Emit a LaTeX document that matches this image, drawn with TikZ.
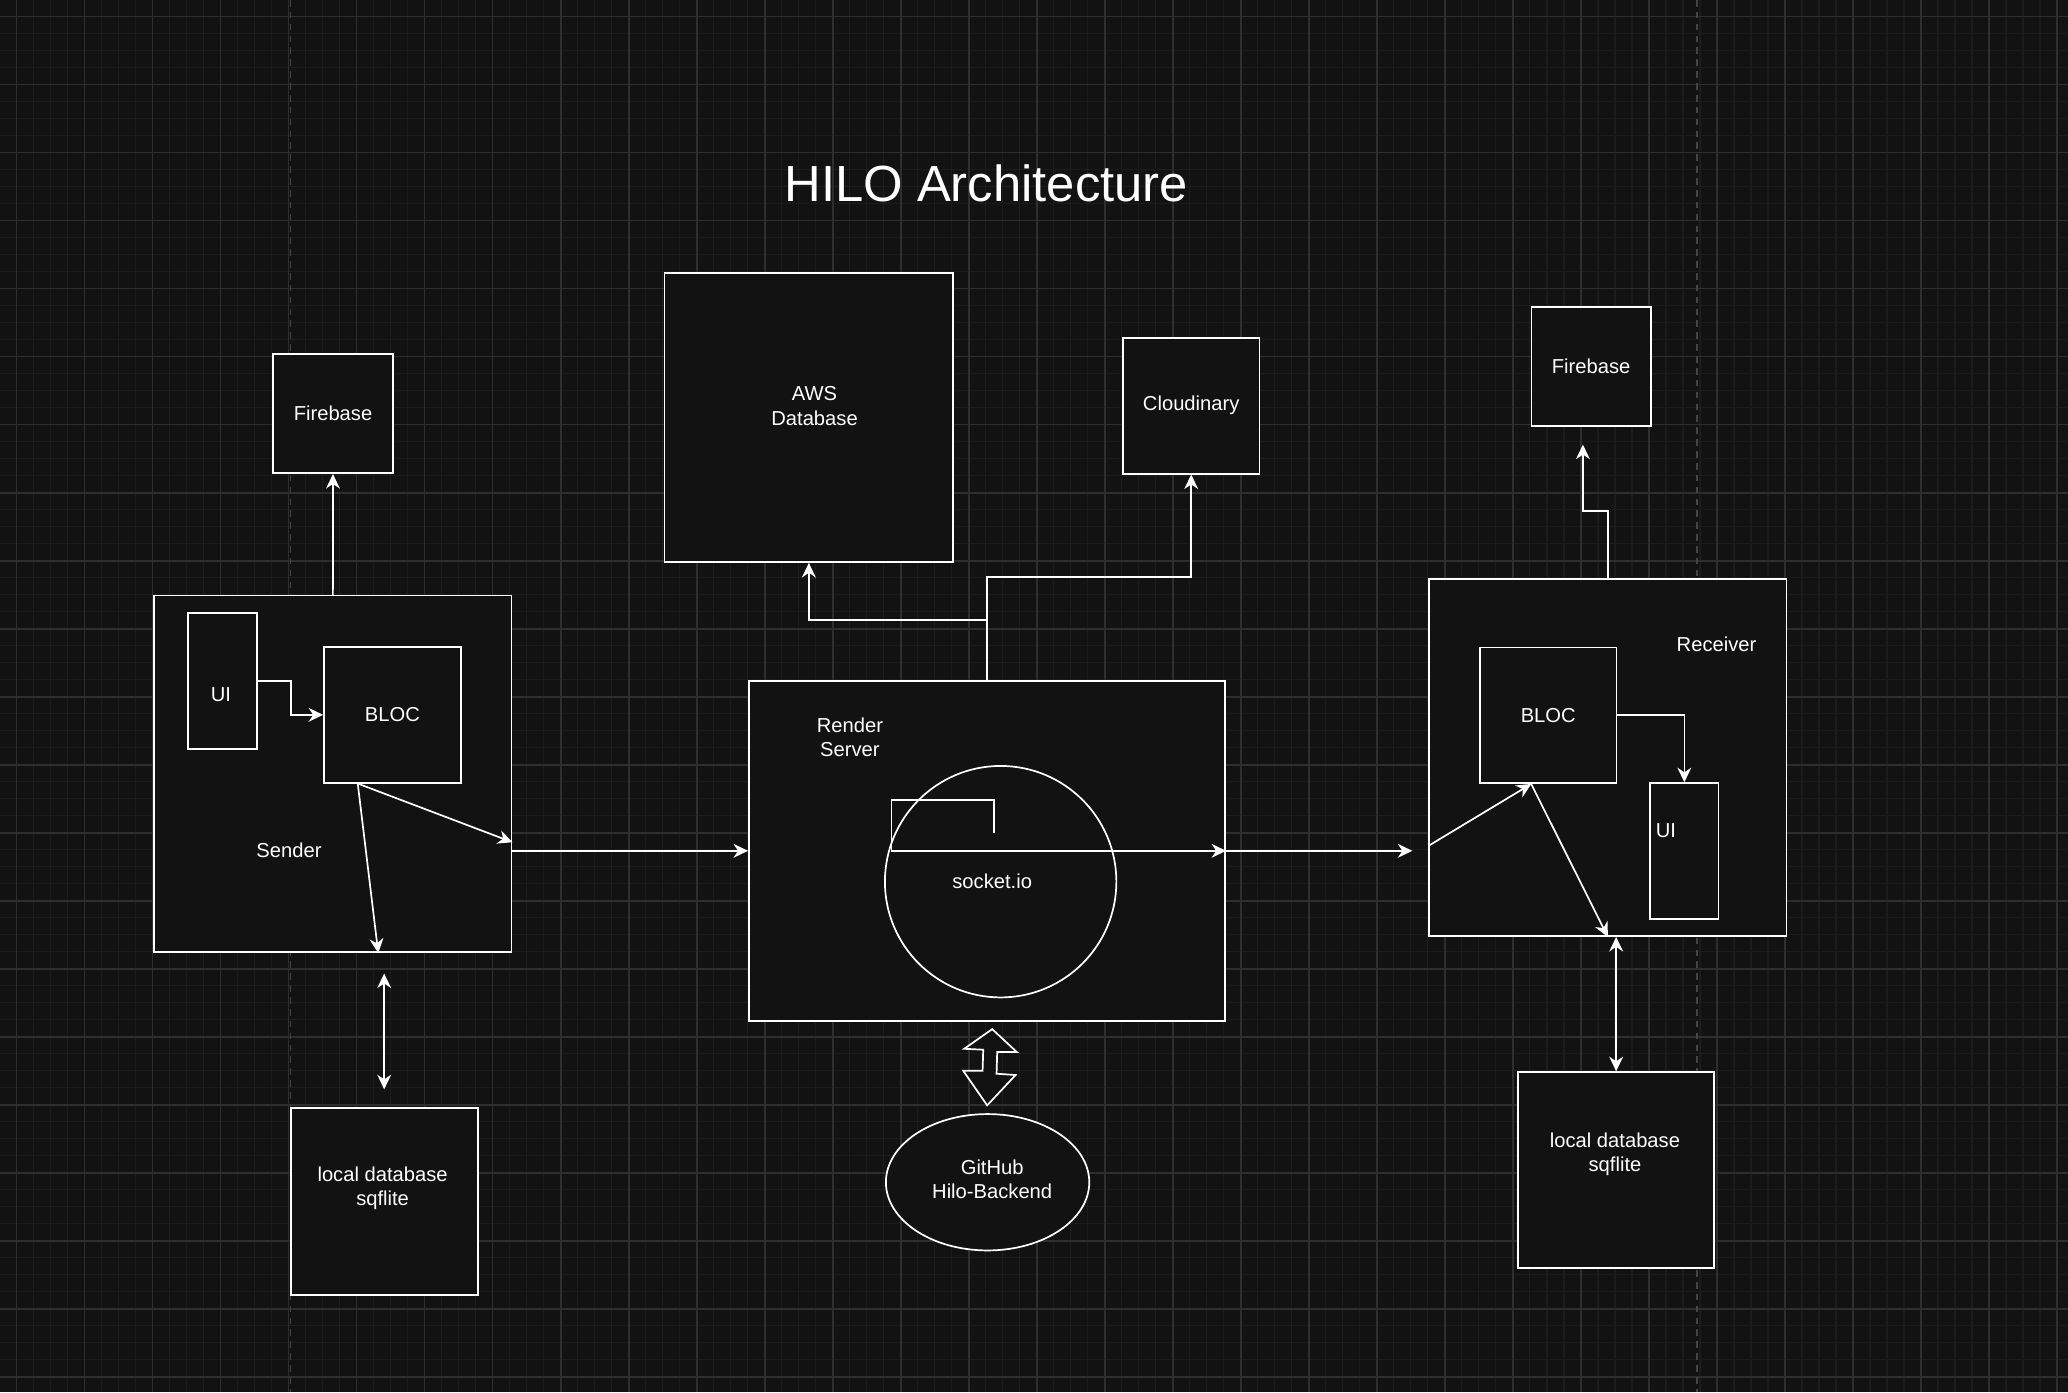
\documentclass[tikz,border=0pt]{standalone}
\usepackage{fontspec}
\setmainfont{Liberation Sans}
\usetikzlibrary{arrows.meta, calc, positioning, shapes.geometric}
\definecolor{canvas}{HTML}{121212}
\definecolor{minorline}{HTML}{1C1C1C}
\definecolor{majorline}{HTML}{2E2E2E}
\definecolor{pageline}{HTML}{454545}
\tikzset{
x=1pt, y=-1pt, % one unit per pixel, y grows downwards
>={Stealth[length=11pt, width=10.5pt, inset=3.5pt]}, % drawio style heads
block/.style={draw=white, fill=canvas, line width=1.3pt, text=white, inner sep=0pt, align=center, font=\fontsize{15.3}{18.4}\selectfont}, % every box
txt/.style={text=white, align=center, font=\fontsize{15.3}{18.4}\selectfont}, % loose labels
wire/.style={draw=white, line width=1.3pt}, % connectors
}
\begin{document}
\begin{tikzpicture}
                \useasboundingbox (0,0) rectangle (1568,1055.5);
                \fill[canvas] (0,0) rectangle (1568,1055.5);
                % background grid
                \foreach \k in {-1,...,121} \draw[minorline, line width=0.9pt] ({12.6+\k*12.892},0) -- ({12.6+\k*12.892},1055.5);
                \foreach \k in {-1,...,81} \draw[minorline, line width=0.9pt] (0,{12.6+\k*12.892}) -- (1568,{12.6+\k*12.892});
                \foreach \k in {0,...,30} \draw[majorline, line width=1.2pt] ({12.6+\k*51.568},0) -- ({12.6+\k*51.568},1055.5);
                \foreach \k in {0,...,20} \draw[majorline, line width=1.2pt] (0,{12.6+\k*51.568}) -- (1568,{12.6+\k*51.568});
                \draw[pageline, line width=1pt, dash pattern=on 5pt off 4pt] (220.3,0) -- (220.3,1055.5);
                \draw[pageline, line width=1pt, dash pattern=on 5pt off 4pt] (1286.7,0) -- (1286.7,1055.5);

                \node[text=white, font=\fontsize{38.5}{46}\selectfont] (title) at (747.8,138.7) {HILO Architecture};

                \node[block, minimum width=90.7pt, minimum height=90.4pt] (fbL) at (252.5,313.6) {Firebase};
                \node[block, minimum width=219pt, minimum height=218.9pt] (aws) at (613.3,316.7) {};
                \node[txt] (awsText) at (617.6,307.8) {AWS\\Database};
                \node[block, minimum width=103.4pt, minimum height=103.1pt] (cloud) at (903.2,307.6) {Cloudinary};
                \node[block, minimum width=90.4pt, minimum height=90.2pt] (fbR) at (1206.4,277.8) {Firebase};

                \node[block, minimum width=271.2pt, minimum height=270.4pt] (sender) at (252.3,586.8) {};
                \node[txt] (senderText) at (219.1,644.9) {Sender};
                \node[block, minimum width=51.8pt, minimum height=103.1pt] (uiL) at (168.7,516.3) {};
                \node[txt] (uiLText) at (167.5,526.9) {UI};
                \node[block, minimum width=103.7pt, minimum height=102.9pt] (blocL) at (297.5,542.0) {BLOC};

                \node[block, minimum width=361.2pt, minimum height=257.6pt] (render) at (748.4,645.1) {};
                \node[txt] (renderText) at (644.4,559.2) {Render\\Server};
                \node[block, circle, minimum size=175.5pt] (sock) at (758.7,668.5) {};
                \node[txt] (sockText) at (752.3,668.5) {socket.io};

                \node[block, minimum width=271pt, minimum height=270.7pt] (recv) at (1219.1,574.4) {};
                \node[txt] (recvText) at (1301.5,488.3) {Receiver};
                \node[block, minimum width=103.6pt, minimum height=102.9pt] (blocR) at (1173.9,542.3) {BLOC};
                \node[block, minimum width=51.8pt, minimum height=103.1pt] (uiR) at (1277.1,645.3) {};
                \node[txt] (uiRText) at (1263.1,629.8) {UI};

                \node[block, minimum width=141.8pt, minimum height=141.9pt] (dbL) at (291.3,910.8) {};
                \node[txt] (dbLText) at (290.1,900.8) {local database\\sqflite};
                \node[block, minimum width=148.4pt, minimum height=148.3pt] (dbR) at (1225.4,887.0) {};
                \node[txt] (dbRText) at (1224.5,875.1) {local database\\sqflite};
                \node[block, ellipse, minimum width=154.2pt, minimum height=103.4pt] (git) at (748.8,896.4) {};
                \node[txt] (gitText) at (752.3,894) {GitHub\\Hilo-Backend};

                % sender side
                \coordinate (blocLout) at ($(blocL.south west)!0.25!(blocL.south east)$);
                \coordinate (dbLtop) at (dbL.north |- sender.south);
                \draw[wire, ->] (uiL.east) -- ++(25.3,0) |- (blocL.west);
                \draw[wire, ->] (blocLout) -- ([yshift=-51.8pt]sender.east);
                \draw[wire, ->] (blocLout) -- ([xshift=34.5pt]sender.south);
                \draw[wire, ->] (sender) -- (fbL);
                \draw[wire, <->] ([yshift=-15.5pt]dbLtop) -- ([yshift=13.3pt]dbL.north);
                \draw[wire, ->] (render.west -| sender.east) -- (render.west);

                % server side
                \coordinate (sockout) at ($(sock.center)+(-4.9,-36.7)$);
                \draw[wire, ->] (render.north) -- ++(0,-45.3) -| (aws.south);
                \draw[wire, ->] (render.north) -- ++(0,-78.3) -| (cloud.south);
                \draw[wire, ->] (sockout) -- ++(0,-25) -- ++(-77.8,0) |- (render.east);
                \draw[wire, ->] (render.east) -- ++(141.2,0);
                \draw[wire, fill=canvas] (752.3,780.3) -- (771.0,797.7) -- (756.1,797.7) -- (755.6,814.1) -- (770.0,815.1) -- (748.5,838.1) -- (730.3,811.8) -- (745.0,811.8) -- (745.5,795.9) -- (731.1,795.2) -- cycle;

                % receiver side
                \coordinate (blocRin) at ($(blocR.south west)!0.377!(blocR.south east)$);
                \draw[wire, ->] ([yshift=-67pt]recv.west) -- (blocRin);
                \draw[wire, ->] (blocRin) -- (recv.south);
                \draw[wire, ->] (blocR.east) -| (uiR.north);
                \draw[wire, ->] (recv.north) -- ++(0,-51.1) -| ([xshift=-6.2pt, yshift=-13.6pt]fbR.south);
                \draw[wire, <->] (dbR.north) -- (dbR.north |- recv.south);
            \end{tikzpicture}
\end{document}
